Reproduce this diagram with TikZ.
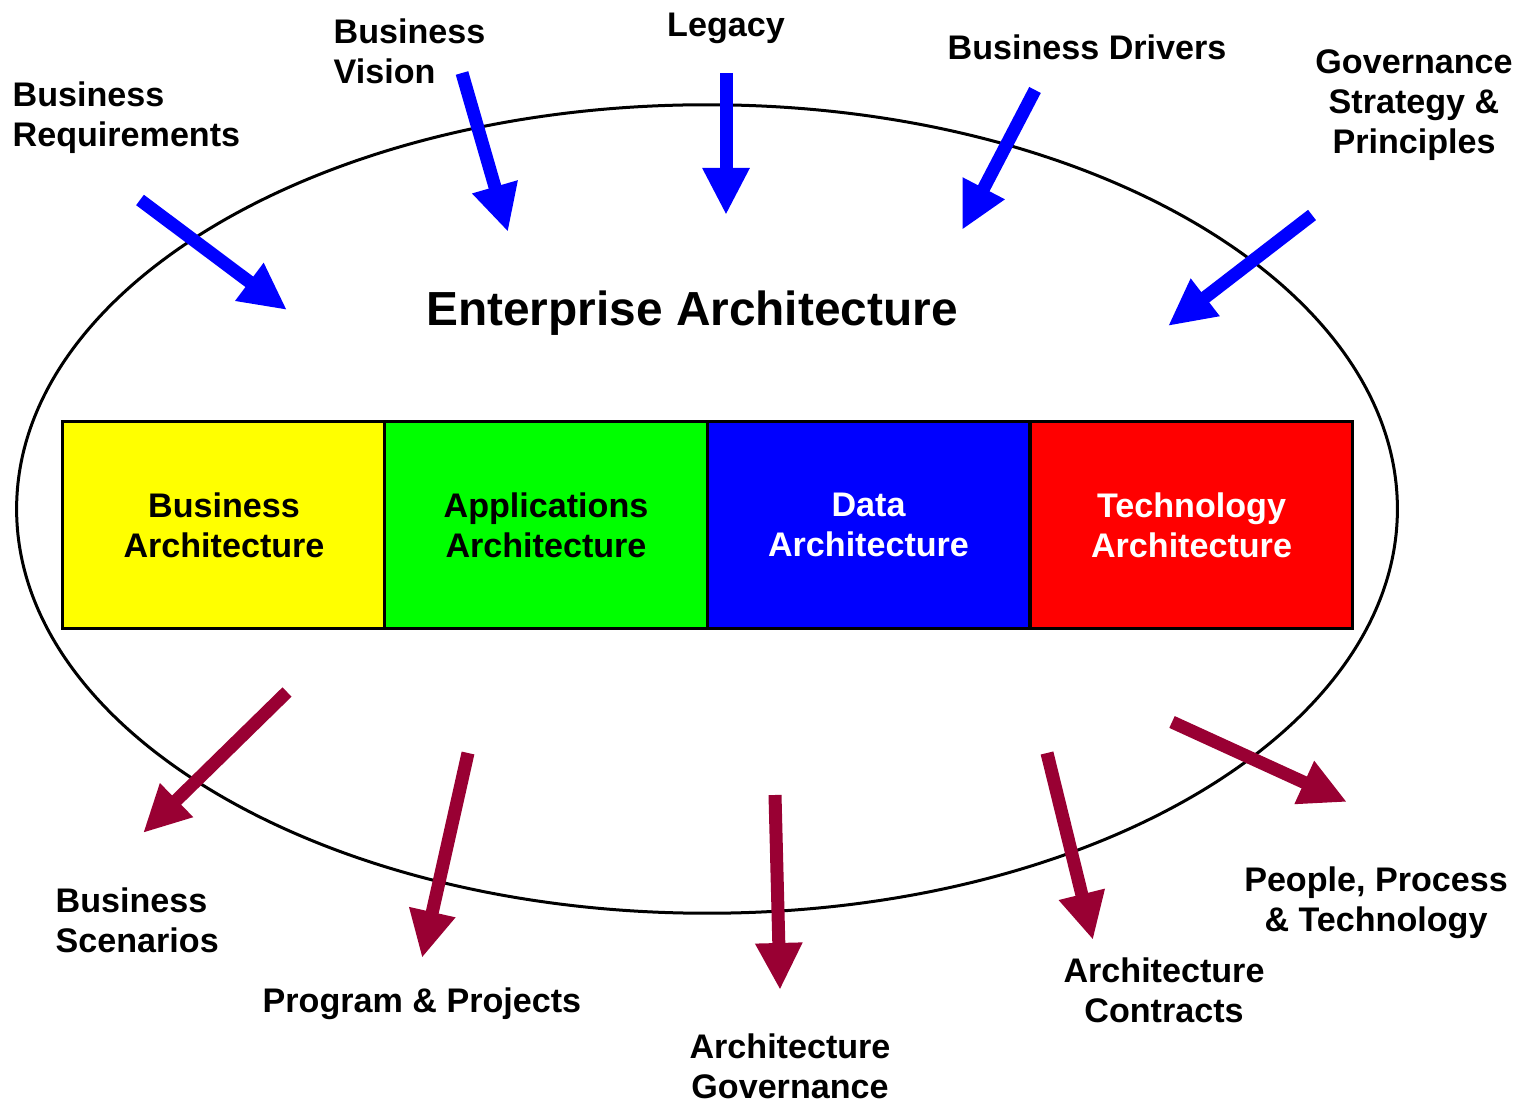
\documentclass[tikz,border=0pt]{standalone}
\usepackage{fontspec}
\setmainfont{Liberation Sans}
\usetikzlibrary{arrows.meta,shapes.geometric}
\definecolor{inarrow}{RGB}{0,0,255}
\definecolor{outarrow}{RGB}{153,0,51}
\definecolor{bizyellow}{RGB}{255,255,0}
\definecolor{appgreen}{RGB}{0,255,0}
\definecolor{datablue}{RGB}{0,0,255}
\definecolor{techred}{RGB}{255,0,0}
\tikzset{
  lbl/.style={inner sep=0pt, font=\fontsize{9.7}{11.4}\selectfont\bfseries},
  title/.style={inner sep=0pt, font=\fontsize{13.6}{15}\selectfont\bfseries},
  archbox/.style={draw=black, line width=0.03cm, minimum width=3.22cm, minimum height=2.06cm, inner sep=0pt, align=center, font=\fontsize{9.7}{11.4}\selectfont\bfseries},
  inflow/.style={draw=inarrow, line width=0.13cm, -{Triangle[width=0.44cm,length=0.47cm]}, inarrow},
  outflow/.style={draw=outarrow, line width=0.13cm, -{Triangle[width=0.44cm,length=0.47cm]}, outarrow},
}
\begin{document}
\begin{tikzpicture}[x=0.01cm,y=-0.01cm]
\useasboundingbox (0,0) rectangle (1519,1101);
\fill[white] (0,0) rectangle (1519,1101);
% ellipse
\node (ell) [ellipse, draw=black, line width=0.03cm, minimum width=13.8cm, minimum height=8.08cm, inner sep=0pt] at (707,509) {};
% title
\node (ea) [title] at (692,313) {Enterprise Architecture};
% architecture boxes
\node (ba) [archbox, fill=bizyellow, text=black] at (224,525) {Business\\Architecture};
\node (aa) [archbox, fill=appgreen, text=black] at (546,525) {Applications\\Architecture};
\node (da) [archbox, fill=datablue, text=white] at (868.5,525) {Data\\Architecture};
\node (ta) [archbox, fill=techred, text=white] at (1191.5,525) {Technology\\Architecture};
% input labels
\node (breq) [lbl, align=left, anchor=west] at (12,118) {Business\\Requirements};
\node (bvis) [lbl, align=left, anchor=west] at (333,51) {Business\\Vision};
\node (leg) [lbl] at (726,28) {Legacy};
\node (bdrv) [lbl, anchor=west] at (947,47) {Business Drivers};
\node (gov) [lbl, align=center] at (1414,105) {Governance\\Strategy \&\\Principles};
% output labels
\node (bsc) [lbl, align=left, anchor=west] at (55,920) {Business\\Scenarios};
\node (prog) [lbl, anchor=west] at (262,1004) {Program \& Projects};
\node (agov) [lbl, align=center] at (790,1066) {Architecture\\Governance};
\node (acon) [lbl, align=center] at (1164,990) {Architecture\\Contracts};
\node (ppt) [lbl, align=center] at (1376,903) {People, Process\\\& Technology};
% arrow end coordinates
\coordinate (i1s) at (140,200); \coordinate (i1e) at (287,310);
\coordinate (i2s) at (462,73);  \coordinate (i2e) at (508,232);
\coordinate (i3s) at (726,73);  \coordinate (i3e) at (726,215);
\coordinate (i4s) at (1035,90); \coordinate (i4e) at (962,230);
\coordinate (i5s) at (1312,215);\coordinate (i5e) at (1168,326);
\coordinate (o1s) at (287,692); \coordinate (o1e) at (143,833);
\coordinate (o2s) at (468,753); \coordinate (o2e) at (422,958);
\coordinate (o3s) at (775,795); \coordinate (o3e) at (780,990);
\coordinate (o4s) at (1047,753);\coordinate (o4e) at (1093,940);
\coordinate (o5s) at (1172,722);\coordinate (o5e) at (1347,802);
% inputs
\draw[inflow] (i1s) -- (i1e);
\draw[inflow] (i2s) -- (i2e);
\draw[inflow] (i3s) -- (i3e);
\draw[inflow] (i4s) -- (i4e);
\draw[inflow] (i5s) -- (i5e);
% outputs
\draw[outflow] (o1s) -- (o1e);
\draw[outflow] (o2s) -- (o2e);
\draw[outflow] (o3s) -- (o3e);
\draw[outflow] (o4s) -- (o4e);
\draw[outflow] (o5s) -- (o5e);
\end{tikzpicture}
\end{document}
